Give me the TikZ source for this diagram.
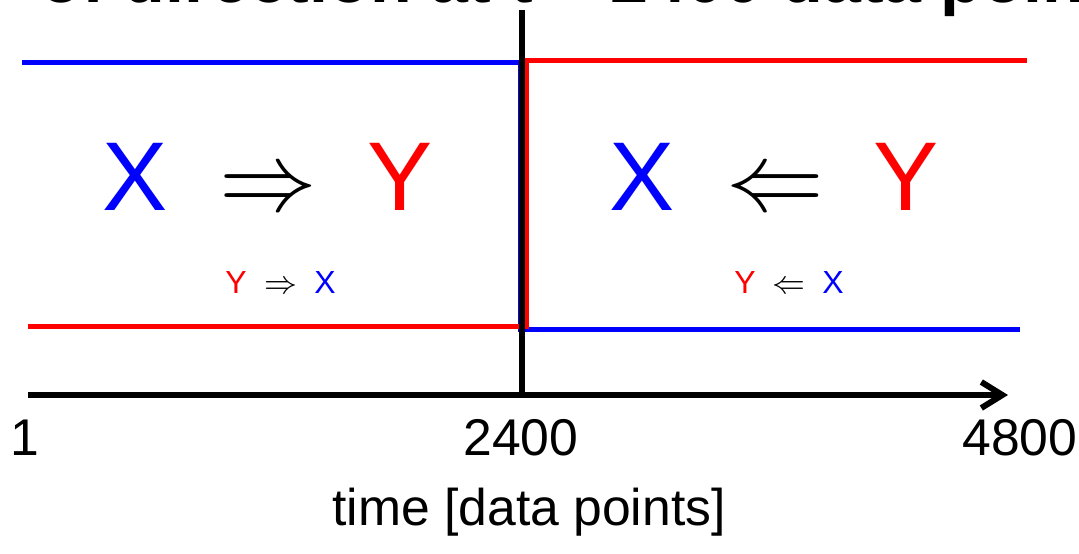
\RequirePackage{fix-cm}
\documentclass[tikz,border=0pt]{standalone}
\usepackage{fontspec}
\setmainfont{Liberation Sans}
\usetikzlibrary{arrows.meta}

\begin{document}
\begin{tikzpicture}[x=1cm,y=1cm,line cap=butt,line join=miter,
  sigline/.style={line width=1.42pt},
  axisline/.style={line width=1.7pt},
  bigsym/.style={anchor=base,inner sep=0pt,font=\fontsize{27.8}{30}\selectfont},
  smallsym/.style={anchor=base,inner sep=0pt,font=\fontsize{9.1}{11}\selectfont},
  ticklabel/.style={anchor=base,inner sep=0pt,font=\fontsize{14.7}{17}\selectfont}]
  \useasboundingbox (0,0) rectangle (10.79,5.53);

  % slide title, cut off by the top edge
  \node[anchor=base west,inner sep=0pt,font=\fontsize{19.4}{22}\selectfont\bfseries] (title)
    at (0.40,5.505) {of direction at t = 2400 data points};

  % the two signals, switching at the change point
  \draw[sigline,blue] (0.22,4.905)--(5.20,4.905)--(5.20,2.24)--(10.20,2.24);
  \draw[sigline,red] (0.28,2.265)--(5.27,2.265)--(5.27,4.925)--(10.27,4.925);

  % time axis and change point marker
  \coordinate (t0) at (0.28,1.58);
  \coordinate (tend) at (10.08,1.58);
  \coordinate (ctop) at (5.22,5.43);
  \coordinate (cbot) at (5.22,1.58);
  \draw[axisline] (ctop)--(cbot);
  \draw[axisline,-{Straight Barb[length=2.1mm,width=2.6mm]}] (t0)--(tend);

  \node[ticklabel] (n1) at (0.25,0.98) {1};
  \node[ticklabel] (n2400) at (5.21,0.98) {2400};
  \node[ticklabel] (n4800) at (10.20,0.98) {4800};
  \node[ticklabel] (tlabel) at (5.29,0.28) {time [data points]};

  % left half: X drives Y
  \node[bigsym,blue] (xl) at (1.35,3.43) {X};
  \node[bigsym] (al) at (2.68,3.43) {$\Rightarrow$};
  \node[bigsym,red] (yl) at (4.00,3.43) {Y};
  \node[smallsym,red] (syl) at (2.36,2.60) {Y};
  \node[smallsym] (sal) at (2.81,2.60) {$\Rightarrow$};
  \node[smallsym,blue] (sxl) at (3.25,2.60) {X};

  % right half: Y drives X
  \node[bigsym,blue] (xr) at (6.42,3.43) {X};
  \node[bigsym] (ar) at (7.75,3.43) {$\Leftarrow$};
  \node[bigsym,red] (yr) at (9.06,3.43) {Y};
  \node[smallsym,red] (syr) at (7.45,2.60) {Y};
  \node[smallsym] (sar) at (7.89,2.60) {$\Leftarrow$};
  \node[smallsym,blue] (sxr) at (8.33,2.60) {X};
\end{tikzpicture}
\end{document}
